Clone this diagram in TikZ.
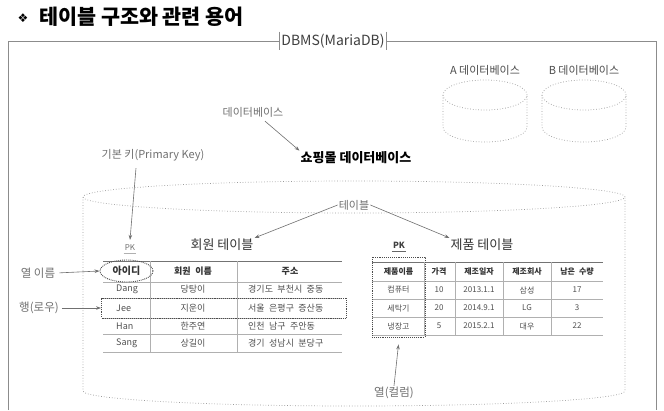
\documentclass[tikz,border=0pt]{standalone}
\usepackage{fontspec}
\setmainfont{Noto Sans CJK KR}
\newfontfamily\cellfont[WordSpace=2.2]{Noto Sans CJK KR}
\newfontfamily\dingfont{DejaVu Sans}
\usetikzlibrary{arrows.meta,shapes.geometric}
\newcommand\myfs[1]{\fontsize{#1}{#1}\selectfont}
\definecolor{lblgray}{HTML}{707070}
\definecolor{txtgray}{HTML}{505050}
\definecolor{linegray}{HTML}{B0B0B0}
\definecolor{dotgray}{HTML}{9A9A9A}
\tikzset{
 lbl/.style={font=\myfs{11}, text=lblgray, inner sep=1pt},
 sidelbl/.style={font=\myfs{11.5}, text=lblgray, inner sep=1pt},
 arr/.style={draw=lblgray, line width=0.6pt, -{Stealth[length=5pt,width=3.5pt]}},
 dotline/.style={draw=dotgray, line width=0.7pt, dotted},
 framel/.style={draw=black!45, line width=0.7pt},
 tline/.style={draw=linegray, line width=0.5pt},
 ttop/.style={draw=black!55, line width=0.6pt},
 cell/.style={font=\cellfont\myfs{9}, text=txtgray, inner sep=1pt},
 pcell/.style={font=\cellfont\myfs{8}, text=txtgray, inner sep=1pt},
 hcell/.style={font=\cellfont\myfs{9}\bfseries, text=black!80, inner sep=1pt},
 phcell/.style={font=\cellfont\myfs{8}\bfseries, text=black!80, inner sep=1pt},
 dotbox/.style={draw=black!70, line width=0.9pt, densely dotted},
}
\begin{document}
\begin{tikzpicture}[x=1pt,y=-1pt]
\useasboundingbox (0,0) rectangle (664,410);
\fill[white] (0,0) rectangle (664,410);

% title
\node[font=\dingfont\myfs{12}, inner sep=0] (diam) at (23,18) {❖};
\node[font=\myfs{20.7}\bfseries, anchor=west, inner sep=0] (title) at (39,17) {테이블 구조와 관련 용어};

% DBMS frame
\node[font=\myfs{14}, text=black!75, inner sep=2pt, minimum height=17pt] (dbms) at (333,41) {DBMS(MariaDB)};
\draw[framel] (dbms.north west) -- (dbms.south west);
\draw[framel] (dbms.north east) -- (dbms.south east);
\coordinate (fbl) at (8,410);
\coordinate (ftl) at (8,41);
\coordinate (ftr) at (656,41);
\coordinate (fbr) at (656,410);
\draw[framel] (fbl) -- (ftl) -- (dbms.west);
\draw[framel] (dbms.east) -- (ftr) -- (fbr);

% small databases
\foreach \cx/\nm/\t in {485/dba/A, 584/dbb/B} {
  \node[lbl, text=black!70] (\nm) at (\cx,70) {\t\ 데이터베이스};
  \draw[dotline] ({\cx-42},95) -- ({\cx-42},127) arc[start angle=180,end angle=360,x radius=42pt,y radius=15pt] -- ({\cx+42},95);
  \draw[dotline] (\cx,95) ellipse[x radius=42pt,y radius=15pt];
}

% big database cylinder
\draw[dotline] (83,197) -- (83,391) arc[start angle=180,end angle=360,x radius=271pt,y radius=15pt] -- (625,197);
\draw[dotline] (354,197) ellipse[x radius=271pt,y radius=16pt];

% labels
\node[lbl] (dblbl) at (253,112) {데이터베이스};
\node[font=\myfs{13}\bfseries, inner sep=1pt] (shop) at (356,158) {쇼핑몰 데이터베이스};
\draw[arr] ([xshift=12pt,yshift=-3pt]dblbl.south) -- (shop.north west);

\node[lbl] (pkey) at (153,155) {기본 키(Primary Key)};
\node[font=\myfs{8}, text=lblgray, inner sep=1pt] (pk1) at (130,248) {PK};
\draw[linegray, line width=0.6pt] ([yshift=-1.5pt]pk1.south west) -- ([yshift=-1.5pt]pk1.south east);
\draw[arr] ([xshift=-17pt,yshift=-6pt]pkey.south) -- ([yshift=4pt]pk1.north);

\node[font=\myfs{13}, text=black!80, inner sep=1pt] (mtitle) at (222,245) {회원 테이블};
\node[font=\myfs{8.5}\bfseries, text=black!75, inner sep=1pt] (pk2) at (399,245) {PK};
\draw[black!60, line width=0.6pt] ([yshift=-1.5pt]pk2.south west) -- ([yshift=-1.5pt]pk2.south east);
\node[font=\myfs{13}, text=black!80, inner sep=1pt] (ptitle) at (482,245) {제품 테이블};
\node[lbl] (tbl) at (354,205) {테이블};
\draw[arr] (tbl.west) -- (mtitle.north east);
\draw[arr] (tbl.east) -- (ptitle.north west);

% member table
\draw[ttop] (103,261) -- (342,261);
\foreach \y in {282,298,318,334,352} \draw[tline] (103,\y) -- (342,\y);
\draw[tline] (150,261) -- (150,352);
\draw[tline] (237,261) -- (237,352);
\node[hcell] (mh2) at (193,271) {회원 이름};
\node[hcell] (mh3) at (290,271) {주소};
\node[hcell, font=\cellfont\myfs{10}\bfseries, ellipse, dotbox, minimum width=53pt, minimum height=22pt, inner sep=0pt] (idell) at (126.5,271) {아이디};
\foreach \y/\a/\b/\c [count=\i] in {289/Dang/당탕이/경기도 부천시 중동, 308/Jee/지운이/서울 은평구 증산동, 326/Han/한주연/인천 남구 주안동, 343.5/Sang/상길이/경기 성남시 분당구} {
  \node[cell, anchor=west] (m\i-a) at (115,\y) {\a};
  \node[cell] (m\i-b) at (193,\y) {\b};
  \node[cell, anchor=west] (m\i-c) at (247,\y) {\c};
}
\node[dotbox, minimum width=245pt, minimum height=20pt, inner sep=0pt] (jeerow) at (224,308) {};

\node[sidelbl] (colname) at (38,273) {열 이름};
\draw[arr, shorten <=3pt] (colname.east) -- (idell.west);
\node[sidelbl] (rowlbl) at (39,308) {행(로우)};
\draw[arr, shorten <=2pt] (rowlbl.east) -- (jeerow.west);

% product table
\draw[ttop] (372,262) -- (603,262);
\foreach \y in {281,299,317,335} \draw[tline] (372,\y) -- (603,\y);
\foreach \x in {424,455,503,551} \draw[tline] (\x,262) -- (\x,335);
\foreach \x/\h [count=\i] in {398.5/제품이름, 439/가격, 479/제조일자, 527/제조회사, 577/남은 수량}
  \node[phcell] (ph\i) at (\x,271.5) {\h};
\foreach \y/\a/\b/\c/\d/\e [count=\i] in {290/컴퓨터/10/2013.1.1/삼성/17, 308/세탁기/20/2014.9.1/LG/3, 326/냉장고/5/2015.2.1/대우/22} {
  \node[pcell] (p\i-a) at (398.5,\y) {\a};
  \node[pcell] (p\i-b) at (439,\y) {\b};
  \node[pcell] (p\i-c) at (479,\y) {\c};
  \node[pcell] (p\i-d) at (527,\y) {\d};
  \node[pcell] (p\i-e) at (577,\y) {\e};
}
\node[dotbox, minimum width=53pt, minimum height=80pt, inner sep=0pt] (pcol) at (398.5,297) {};
\node[sidelbl] (collbl) at (394,393) {열(컬럼)};
\draw[arr] (collbl.north) -- ([yshift=-7pt]pcol.south);
\end{tikzpicture}
\end{document}
